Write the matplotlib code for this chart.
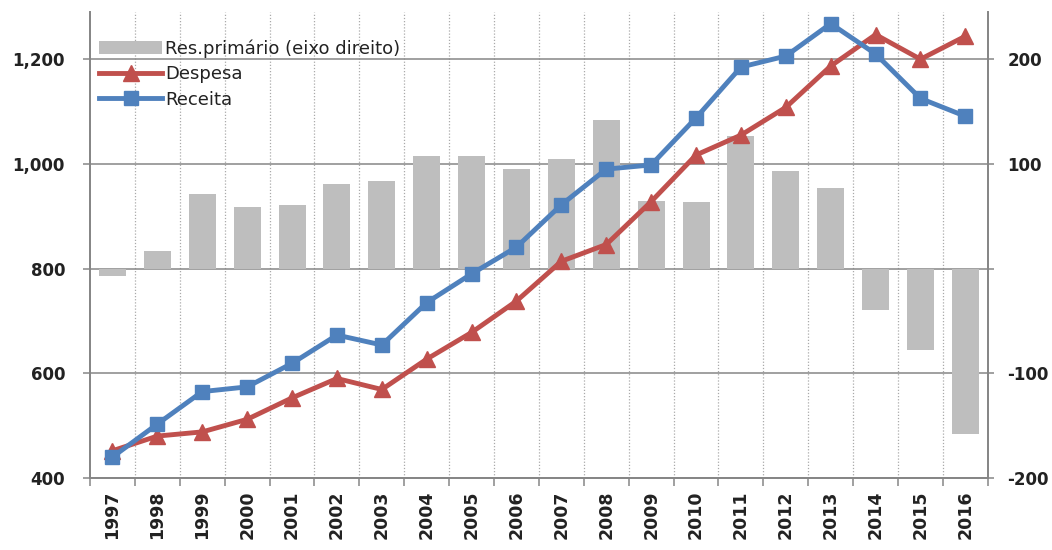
import numpy as np
import matplotlib
matplotlib.use('Agg')
import matplotlib.pyplot as plt
import matplotlib.ticker as mticker
from matplotlib.patches import Patch
from matplotlib.lines import Line2D

# dados (R$ bilhoes)
anos = [str(a) for a in range(1997, 2017)]
receita = [440, 503, 565, 574, 619, 673, 654, 735, 790, 841, 922, 990, 998, 1088, 1185, 1206, 1268, 1210, 1125, 1091]
despesa = [452, 480, 488, 512, 553, 590, 569, 627, 678, 738, 814, 846, 928, 1017, 1055, 1108, 1187, 1247, 1200, 1244]
res_primario = [-7, 17, 71, 59, 61, 81, 84, 108, 108, 95, 105, 142, 65, 64, 127, 93, 77, -40, -78, -158]

cor_receita = '#4F81BD'
cor_despesa = '#C0504D'
cor_barra = '#BEBEBE'
cor_eixo = '#868686'

x = np.arange(len(anos))

fig = plt.figure(figsize=(10.52, 5.5), dpi=100)
ax = fig.add_axes([0.0856, 0.131, 0.8534, 0.847])
ax2 = ax.twinx()

# barras no eixo direito, atras das linhas
ax.set_zorder(ax2.get_zorder() + 1)
ax.patch.set_visible(False)

ax2.bar(x, res_primario, width=0.6, color=cor_barra, zorder=2)
ax2.set_ylim(-200, 245)
ax2.set_yticks([-200, -100, 0, 100, 200])
ax2.yaxis.set_major_formatter(mticker.FuncFormatter(lambda v, p: '' if v == 0 else '%d' % v))
ax2.grid(axis='y', color=cor_eixo, linewidth=1.1, zorder=1)
ax2.set_axisbelow(True)
for b in np.arange(-0.5, len(anos), 1.0)[1:-1]:
    ax2.axvline(b, color='#AAAAAA', linestyle=(0, (1, 1.5)), linewidth=0.9, zorder=0)

ax.plot(x, despesa, color=cor_despesa, linewidth=3.5, marker='^', markersize=11, zorder=3)
ax.plot(x, receita, color=cor_receita, linewidth=3.5, marker='s', markersize=10, zorder=4)
ax.set_ylim(400, 1290)
ax.set_yticks([400, 600, 800, 1000, 1200])
ax.yaxis.set_major_formatter(mticker.FuncFormatter(lambda v, p: '{:,.0f}'.format(v)))
ax.set_xlim(-0.5, len(anos) - 0.5)
ax.set_xticks(x)
ax.set_xticklabels(anos, rotation=90, fontsize=12.5, fontweight='bold', color='#222222')
ax.set_xticks(np.arange(-0.5, len(anos), 1.0), minor=True)

for a in (ax, ax2):
    a.spines['top'].set_visible(False)
    for s in ('left', 'right', 'bottom'):
        a.spines[s].set_color(cor_eixo)
        a.spines[s].set_linewidth(1.3)

ax.tick_params(axis='x', which='major', length=0, pad=9)
ax.tick_params(axis='x', which='minor', length=6, color=cor_eixo, width=1.1, direction='out')
ax.tick_params(axis='y', length=5, color=cor_eixo, width=1.1, pad=13, labelsize=12, labelcolor='#222222')
for t in ax.get_yticklabels():
    t.set_fontweight('bold')
ax2.tick_params(axis='y', length=4, color=cor_eixo, width=1.1, pad=10, labelsize=12, labelcolor='#222222')
for t in ax2.get_yticklabels():
    t.set_fontweight('bold')

handles = [Patch(facecolor=cor_barra, edgecolor='none'),
           Line2D([], [], color=cor_despesa, linewidth=3.5, marker='^', markersize=11),
           Line2D([], [], color=cor_receita, linewidth=3.5, marker='s', markersize=10)]
labels = ['Res.primário (eixo direito)', 'Despesa', 'Receita']
leg = ax.legend(handles, labels, loc='upper left', bbox_to_anchor=(0.01, 0.942), frameon=False,
                fontsize=13, handlelength=3.5, handletextpad=0.15, labelspacing=0.42,
                borderpad=0, borderaxespad=0)
for t in leg.get_texts():
    t.set_color('#222222')

fig.savefig('out.png', dpi=100)
